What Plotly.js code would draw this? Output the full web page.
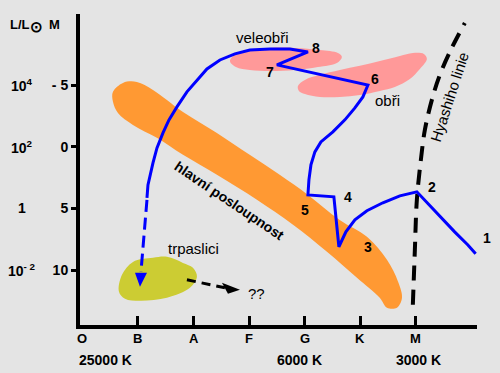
<!DOCTYPE html>
<html>
<head>
<meta charset="utf-8">
<script src="https://cdn.plot.ly/plotly-3.0.1.min.js"></script>
<style>html,body{margin:0;padding:0;background:#e4e4e4;}#chart{width:500px;height:373px;}</style>
</head>
<body>
<div id="chart"></div>
<script>
// x = spectral class index (O=0 ... M=6), y = absolute magnitude M
const spectralClasses = ["O", "B", "A", "F", "G", "K", "M"];
const spectralPos = [0, 1, 2, 3, 4, 5, 6];
const temperatureLabels = ["25000 K", "6000 K", "3000 K"];
const temperaturePos = [0.41, 3.91, 6.04];
const magnitudeTicks = [-5, 0, 5, 10];
const magnitudeText = ["- 5", "0", "5", "10"];
const luminosityText = ["10<sup>4</sup>", "10<sup>2</sup>", "1", "10<sup>- 2</sup>"];

// main sequence band outline
const mainSeqX = [0.55,0.73,0.98,1.27,1.81,2.42,3.01,3.55,4.06,4.63,5.12,5.48,5.68,5.75,5.66,5.48,5.35,4.94,4.40,3.79,3.14,2.42,1.81,1.34,0.91,0.64,0.55,0.55];
const mainSeqY = [-4.46,-5.19,-5.27,-4.62,-2.83,-1.13,0.65,2.27,3.90,5.93,7.30,9.17,10.95,12.25,13.06,13.06,12.25,10.63,8.52,6.33,4.30,2.27,0.65,-0.73,-1.78,-2.75,-3.65,-4.46];
// supergiants region
const superGiantX = [2.655,2.763,3.014,3.374,3.824,4.273,4.597,4.669,4.579,4.237,3.824,3.374,3.014,2.763,2.655];
const superGiantY = [-6.97,-7.54,-7.86,-8.03,-8.03,-7.86,-7.62,-7.30,-6.81,-6.48,-6.24,-6.16,-6.24,-6.48,-6.97];
// giants region
const giantX = [3.878,4.004,4.273,4.633,4.993,5.353,5.712,5.946,6.144,6.198,6.072,5.892,5.622,5.353,4.993,4.633,4.273,4.004,3.896,3.878];
const giantY = [-4.94,-5.43,-5.84,-6.24,-6.57,-6.97,-7.38,-7.62,-7.54,-7.13,-6.32,-5.51,-4.86,-4.54,-4.21,-4.05,-4.05,-4.29,-4.54,-4.94];
// white dwarfs region
const dwarfX = [0.658,0.712,0.910,1.270,1.522,1.809,1.989,2.061,1.935,1.522,1.036,0.766,0.658];
const dwarfY = [11.76,10.39,9.34,9.01,8.93,9.42,9.82,10.55,11.44,12.25,12.49,12.33,11.76];
// Hayashi line
const hayashiX = [5.946,5.982,6.018,6.090,6.162,6.288,6.432,6.647,6.881];
const hayashiY = [12.82,8.36,4.30,1.06,-1.37,-3.81,-5.84,-8.03,-10.05];
// evolutionary track 1 -> 8 -> white dwarf
const trackX = [7.076,6.932,6.698,6.432,6.198,6.018,5.712,5.406,5.119,4.903,4.741,4.615,4.525,4.058,4.076,4.112,4.183,4.291,4.507,4.723,4.903,5.047,5.137,3.500,4.058,3.734,3.374,3.014,2.745,2.475,2.241,2.061,1.881,1.701,1.558,1.450,1.342,1.270,1.216,1.180,1.162];
const trackY = [8.68,7.95,6.90,5.60,4.46,3.65,3.98,4.54,5.19,5.92,6.90,8.11,4.06,3.90,2.68,1.47,0.41,-0.40,-1.21,-2.19,-3.16,-4.05,-5.02,-6.65,-7.70,-7.94,-7.94,-7.86,-7.54,-7.05,-6.32,-5.43,-4.46,-3.24,-2.19,-1.13,0.09,1.30,2.27,3.09,4.14];
const collapseX = [1.162, 1.054];
const collapseY = [4.30, 10.14];
const collapseHeadX = [0.946, 1.162, 1.036, 0.946];
const collapseHeadY = [10.22, 10.22, 11.36, 10.22];
// dwarf fate arrow
const fateX = [1.881, 2.565];
const fateY = [10.79, 11.44];
const fateHeadX = [2.511, 2.619, 2.835, 2.511];
const fateHeadY = [11.03, 11.93, 11.60, 11.03];
// labels
const stageLabels = ["1","2","3","4","5","6","7","8"];
const stageX = [7.277,6.288,5.137,4.777,4.004,5.263,3.374,4.201];
const stageY = [7.38,3.26,8.11,4.06,5.11,-5.51,-6.08,-8.03];
const regionLabels = ["veleobři","obři","trpaslici","??"];
const regionX = [3.248,5.496,2.007,3.140];
const regionY = [-8.84,-3.73,8.27,11.93];

const FONT = "Liberation Sans, Arial, Helvetica, sans-serif";
const BG = "#e4e4e4";
const X_RANGE = [-0.043, 7.10];

function poly(x, y, color) {
  return {x: x, y: y, mode: "lines", fill: "toself", fillcolor: color,
          line: {width: 0, color: color, shape: "spline", smoothing: 1}, hoverinfo: "skip", showlegend: false};
}

const traces = [
  poly(mainSeqX, mainSeqY, "#ff9933"),
  poly(superGiantX, superGiantY, "#ff9999"),
  poly(giantX, giantY, "#ff9999"),
  poly(dwarfX, dwarfY, "#cccc33"),
  {x: hayashiX, y: hayashiY, mode: "lines", line: {color: "#000000", width: 4, dash: "15px,9px", shape: "spline"}, hoverinfo: "skip", showlegend: false},
  {x: trackX, y: trackY, mode: "lines", line: {color: "#0000ff", width: 3}, hoverinfo: "skip", showlegend: false},
  {x: collapseX, y: collapseY, mode: "lines", line: {color: "#0000ff", width: 3, dash: "12px,6px"}, hoverinfo: "skip", showlegend: false},
  {x: collapseHeadX, y: collapseHeadY, mode: "lines", fill: "toself", fillcolor: "#0000ff", line: {width: 0, color: "#0000ff"}, hoverinfo: "skip", showlegend: false},
  {x: fateX, y: fateY, mode: "lines", line: {color: "#000000", width: 3, dash: "9px,6px"}, hoverinfo: "skip", showlegend: false},
  {x: fateHeadX, y: fateHeadY, mode: "lines", fill: "toself", fillcolor: "#000000", line: {width: 0, color: "#000000"}, hoverinfo: "skip", showlegend: false}
];

const annotations = [];
function ann(o) {
  annotations.push(Object.assign({showarrow: false, xanchor: "center", yanchor: "middle"}, o));
}
function toPaperX(v) { return (v - X_RANGE[0]) / (X_RANGE[1] - X_RANGE[0]); }
stageLabels.forEach((t, i) => {
  const inside = stageX[i] <= X_RANGE[1];
  ann({text: t, x: inside ? stageX[i] : toPaperX(stageX[i]), xref: inside ? "x" : "paper", y: stageY[i], yref: "y",
       font: {family: FONT, size: 14, color: "#000", weight: 700}});
});
regionLabels.forEach((t, i) => ann({text: t, x: regionX[i], y: regionY[i], font: {family: FONT, size: 15, color: "#000"}}));
ann({text: "hlavní posloupnost", x: 2.655, y: 4.40, textangle: 34, font: {family: FONT, size: 14, color: "#000", weight: 700}});
ann({text: "Hyashiho linie", x: 6.612, y: -4.05, textangle: -72, font: {family: FONT, size: 15, color: "#000"}});
spectralClasses.forEach((t, i) => ann({text: t, x: spectralPos[i], xref: "x", y: -0.045, yref: "paper", font: {family: FONT, size: 13, color: "#000", weight: 700}}));
temperatureLabels.forEach((t, i) => ann({text: t, x: temperaturePos[i], xref: "x", y: -0.113, yref: "paper", font: {family: FONT, size: 14, color: "#000", weight: 700}}));
luminosityText.forEach((t, i) => ann({text: t, x: -0.146, xref: "paper", y: magnitudeTicks[i], yref: "y", font: {family: FONT, size: 14, color: "#000", weight: 700}}));
ann({text: "L/L<sub><span style='font-size:15px'>⊙</span></sub>", x: -0.181, xref: "paper", xanchor: "left", y: 0.962, yref: "paper", font: {family: FONT, size: 13, color: "#000", weight: 700}});
ann({text: "M", x: -0.064, xref: "paper", y: 0.965, yref: "paper", font: {family: FONT, size: 13, color: "#000", weight: 700}});

const layout = {
  width: 500, height: 373,
  margin: {l: 80, r: 23, t: 14, b: 48, pad: 0},
  paper_bgcolor: BG, plot_bgcolor: BG,
  showlegend: false, hovermode: false,
  xaxis: {range: X_RANGE, showgrid: false, zeroline: false, showline: true, linewidth: 4, linecolor: "#000",
          ticks: "inside", tickvals: spectralPos.slice(1), ticklen: 9, tickwidth: 3, tickcolor: "#000", showticklabels: false, fixedrange: true},
  yaxis: {range: [14.46, -10.78], showgrid: false, zeroline: false, showline: true, linewidth: 4, linecolor: "#000",
          ticks: "outside", tickvals: magnitudeTicks, ticktext: magnitudeText, ticklen: 5, tickwidth: 3, tickcolor: "#000",
          tickfont: {family: FONT, size: 14, color: "#000", weight: 700}, fixedrange: true},
  annotations: annotations
};

Plotly.newPlot("chart", traces, layout, {staticPlot: true, displayModeBar: false});
</script>
</body>
</html>
